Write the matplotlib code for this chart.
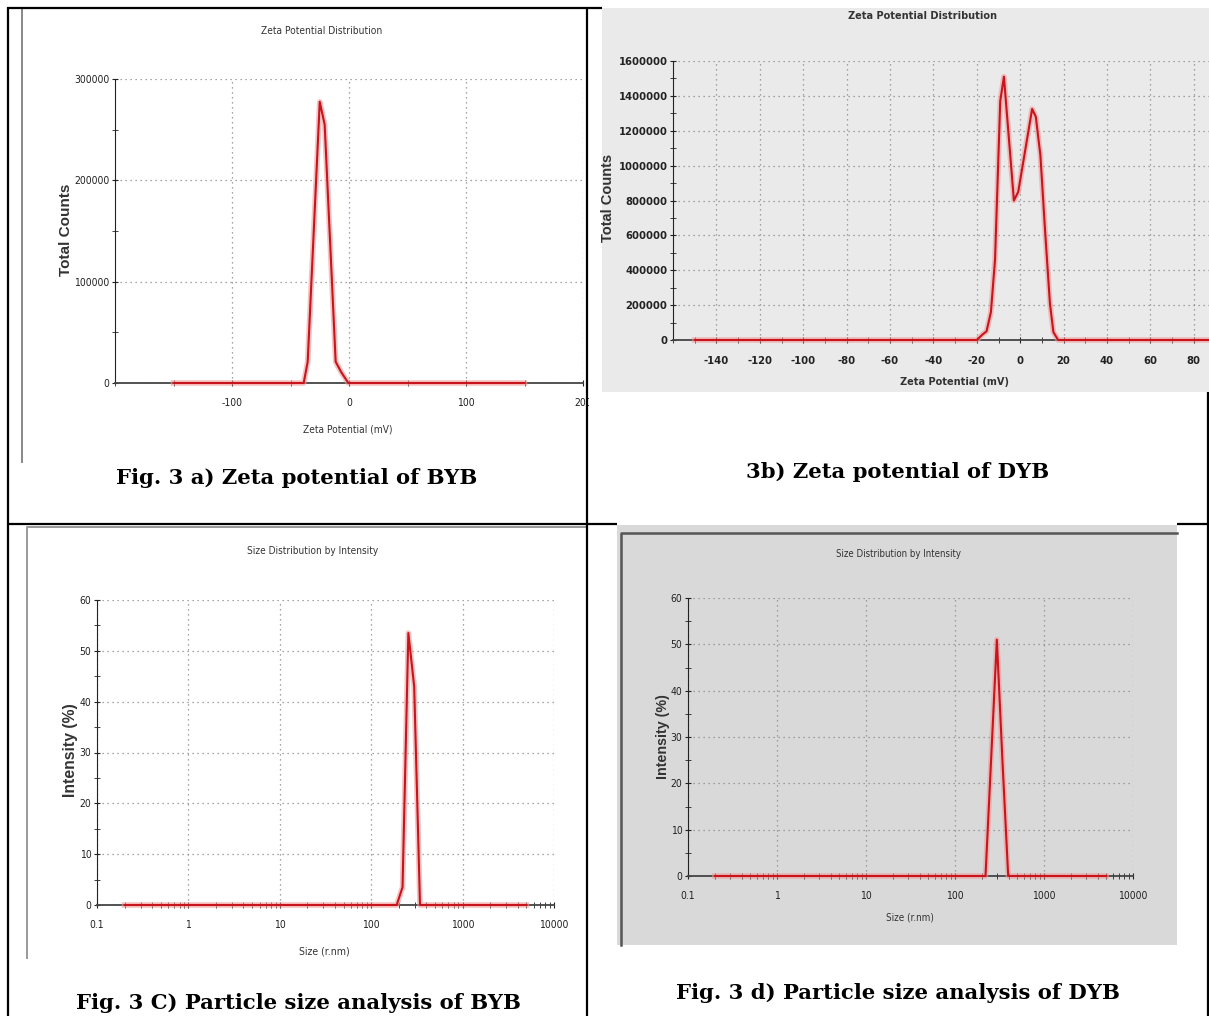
import matplotlib
matplotlib.use('Agg')
import matplotlib.pyplot as plt
from matplotlib.patches import Rectangle
from matplotlib.ticker import MultipleLocator, NullFormatter

W, H = 1209, 1016

# a) zeta potential of BYB
zeta_a = [-150, -38.7, -35.3, -25.0, -20.8, -11.4, -6.8, -0.6, 150]
counts_a = [0, 0, 21000, 277500, 255000, 21000, 11000, 0, 0]
xt_a = [-100, 0, 100, 200]
yt_a = [0, 100000, 200000, 300000]

# b) zeta potential of DYB
zeta_b = [-150, -20, -17.5, -15.5, -13.5, -11.6, -9.2, -7.5, -2.9, -0.9,
          5.5, 7.2, 9.3, 11.5, 13.7, 15.3, 17.5, 150]
counts_b = [0, 0, 30000, 50000, 160000, 460000, 1370000, 1510000, 800000,
            850000, 1325000, 1280000, 1060000, 620000, 210000, 45000, 0, 0]
xt_b = list(range(-140, 161, 20))
yt_b = list(range(0, 1600001, 200000))

# c) and d) size distribution by intensity
size_c = [0.2, 190.1, 220.2, 255.0, 295.3, 342.0, 5000]
int_c = [0, 0, 3.5, 53.5, 43.0, 0, 0]
size_d = [0.2, 220.2, 255.0, 295.3, 342.0, 396.1, 5000]
int_d = [0, 0, 25.5, 51.0, 24.5, 0, 0]
xt_size = [0.1, 1, 10, 100, 1000, 10000]
yt_int = [0, 10, 20, 30, 40, 50, 60]

captions = ['Fig. 3 a) Zeta potential of BYB', '3b) Zeta potential of DYB',
            'Fig. 3 C) Particle size analysis of BYB',
            'Fig. 3 d) Particle size analysis of DYB']

narrow = ['DejaVu Sans Condensed', 'Liberation Sans Narrow', 'DejaVu Sans']
plt.rcParams['font.family'] = narrow
plt.rcParams['font.stretch'] = 'condensed'

fig = plt.figure(figsize=(W / 100, H / 100), dpi=100)


def px_axes(l, t, r, b, z=5):
    return fig.add_axes([l / W, 1 - b / H, (r - l) / W, (b - t) / H], zorder=z)


def style(ax, fs, pad, bold=False):
    for s in ['top', 'right']:
        ax.spines[s].set_visible(False)
    ax.spines['left'].set_color('#222')
    ax.spines['bottom'].set_color('#444')
    ax.spines['bottom'].set_linewidth(1.3)
    ax.set_facecolor('none')
    ax.grid(True, which='major', linestyle=(0, (1, 3)), color='#888', lw=0.9)
    ax.tick_params(which='both', direction='inout', colors='#222',
                   labelsize=fs, labelcolor='#222')
    ax.tick_params(which='major', length=5)
    ax.tick_params(which='minor', length=4)
    ax.tick_params(axis='x', pad=pad)
    ax.tick_params(axis='y', pad=1.5)
    if bold:
        for lbl in ax.get_xticklabels() + ax.get_yticklabels():
            lbl.set_fontweight('bold')


def red(ax, x, y):
    ax.plot(x, y, color='#f29a9a', lw=4, alpha=0.6, clip_on=False, zorder=3)
    ax.plot(x, y, color='#c8141c', lw=1.5, clip_on=False, zorder=4)


# background layer in pixel coordinates
bg = fig.add_axes([0, 0, 1, 1], zorder=0)
bg.set_xlim(0, W)
bg.set_ylim(H, 0)
bg.axis('off')
bg.add_patch(Rectangle((602, 8), 607, 384, color='#eaeaea', lw=0))
bg.add_patch(Rectangle((617, 525), 560, 420, color='#d9d9d9', lw=0))
bg.plot([621, 621, 1177], [945, 533, 533], color='#555', lw=1.8)
bg.plot([22, 22], [8, 462], color='#888', lw=1.4)
bg.plot([27, 27, 587], [958, 527, 527], color='#999', lw=1.4)

# a
ax = px_axes(115, 79, 583, 383)
red(ax, zeta_a, counts_a)
ax.set_xlim(-200, 200)
ax.set_ylim(0, 300000)
ax.set_xticks(xt_a, [str(v) for v in xt_a])
ax.set_yticks(yt_a, [str(v) for v in yt_a])
ax.xaxis.set_minor_locator(MultipleLocator(50))
ax.yaxis.set_minor_locator(MultipleLocator(50000))
style(ax, 7.5, 8)

# b
ax = px_axes(673, 61, 673 + 320 * 2.17, 340)
red(ax, zeta_b, counts_b)
ax.set_xlim(-160, 160)
ax.set_ylim(0, 1600000)
ax.set_xticks(xt_b, [str(v) for v in xt_b])
ax.set_yticks(yt_b, [str(v) for v in yt_b])
ax.xaxis.set_minor_locator(MultipleLocator(10))
ax.yaxis.set_minor_locator(MultipleLocator(100000))
style(ax, 8, 9, bold=True)

# c and d
for (l, t, r, b), xs, ys in [((97, 600, 554, 905), size_c, int_c),
                             ((688, 598, 1133, 876), size_d, int_d)]:
    ax = px_axes(l, t, r, b)
    red(ax, xs, ys)
    ax.set_xscale('log')
    ax.set_xlim(0.1, 10000)
    ax.set_ylim(0, 60)
    ax.set_xticks(xt_size, [str(v) for v in xt_size])
    ax.xaxis.set_minor_formatter(NullFormatter())
    ax.set_yticks(yt_int, [str(v) for v in yt_int])
    ax.yaxis.set_minor_locator(MultipleLocator(5))
    style(ax, 7.5, 8)

# foreground layer: table borders, titles, labels, captions
fg = fig.add_axes([0, 0, 1, 1], zorder=10)
fg.set_xlim(0, W)
fg.set_ylim(H, 0)
fg.axis('off')
fg.patch.set_visible(False)
fg.add_patch(Rectangle((588.5, 375), 13, 50, color='white', lw=0))
k = dict(color='black', lw=1.6, solid_capstyle='butt')
fg.plot([7.5, 7.5], [7, 1016], **k)
fg.plot([7, 602], [7.5, 7.5], **k)
fg.plot([587, 587], [7, 1016], **k)
fg.plot([7, 617], [524, 524], **k)
fg.plot([1177, 1209], [524, 524], **k)
fg.plot([1207.5, 1207.5], [392, 1016], **k)

t = dict(ha='center', va='center', color='#333')
fg.text(322, 31, 'Zeta Potential Distribution', fontsize=7.3, **t)
fg.text(922, 16, 'Zeta Potential Distribution', fontsize=7.8, fontweight='bold', **t)
fg.text(313, 551, 'Size Distribution by Intensity', fontsize=7.2, **t)
fg.text(899, 554, 'Size Distribution by Intensity', fontsize=6.9, **t)
fg.text(348, 430, 'Zeta Potential (mV)', fontsize=7.3, **t)
fg.text(955, 382, 'Zeta Potential (mV)', fontsize=7.8, fontweight='bold', **t)
fg.text(324, 951, 'Size (r.nm)', fontsize=7.6, **t)
fg.text(910, 918, 'Size (r.nm)', fontsize=7.1, **t)

yl = dict(ha='center', va='center', rotation=90, color='#333',
          family='Liberation Sans', fontweight='bold', fontstretch='normal')
fg.text(66, 230, 'Total Counts', fontsize=11, **yl)
fg.text(608, 198, 'Total Counts', fontsize=10.5, **yl)
fg.text(70, 750, 'Intensity (%)', fontsize=11.3, **yl)
fg.text(663, 737, 'Intensity (%)', fontsize=10.3, **yl)

cp = dict(ha='center', va='center', family='DejaVu Serif', fontweight='bold',
          fontsize=15.2, color='black', fontstretch='normal')
fg.text(297, 478, captions[0], **cp)
fg.text(898, 472, captions[1], **cp)
fg.text(298, 1003, captions[2], **cp)
fg.text(898, 993, captions[3], **cp)

fig.savefig('out.png', dpi=100)
